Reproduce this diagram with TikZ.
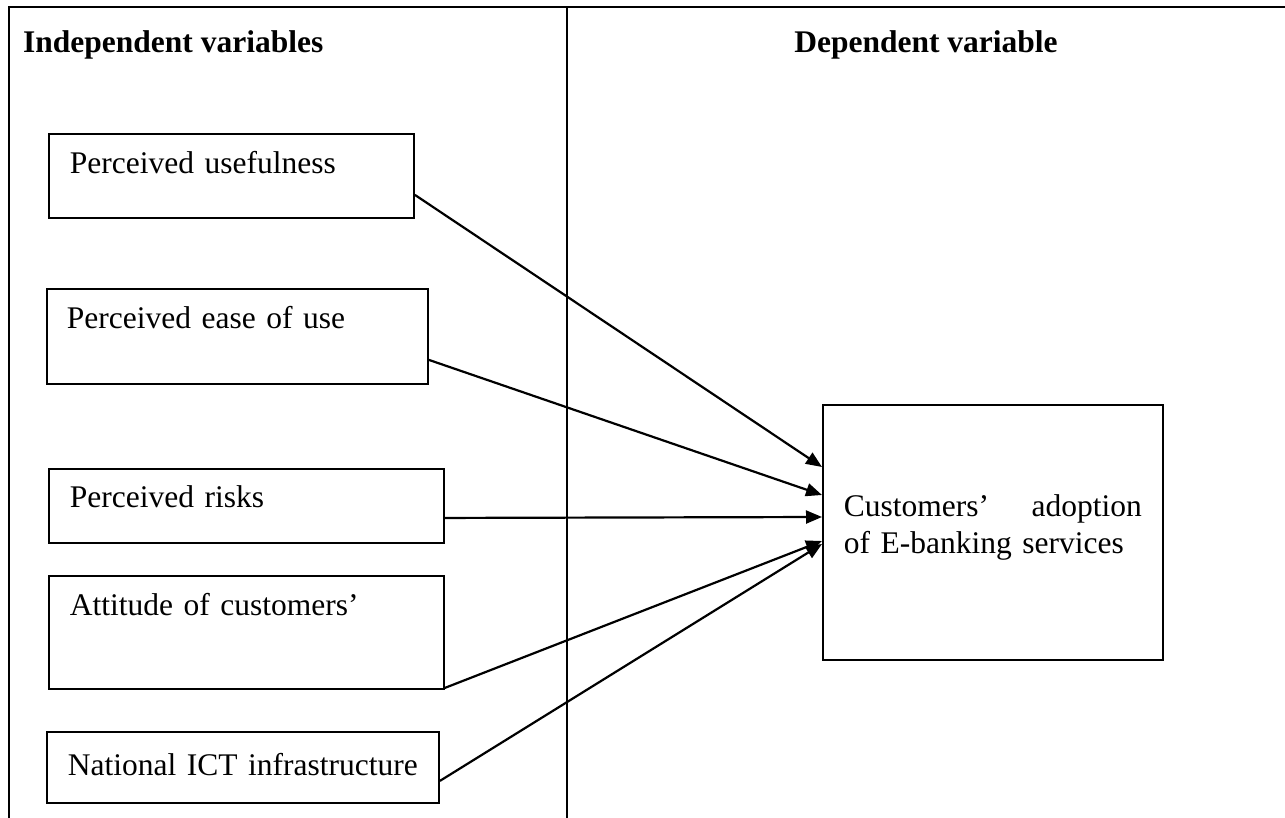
\documentclass[tikz,border=0pt]{standalone}
\usepackage{fontspec}
\setmainfont{Liberation Serif}
\usetikzlibrary{arrows.meta,positioning,calc}

\begin{document}
\begin{tikzpicture}[
    x=1pt, y=-1pt,
    frame/.style={line width=2.4pt},
    head/.style={font=\fontsize{31.5}{37}\selectfont\bfseries, inner sep=0pt},
    varbox/.style={draw, line width=1.9pt, anchor=north west,
                   inner xsep=21pt, inner ysep=0pt, align=left,
                   font=\fontsize{31.5}{37}\selectfont},
    result/.style={draw, line width=1.9pt, anchor=north west,
                   minimum width=340pt, minimum height=255pt,
                   inner xsep=21pt, text width=298pt, align=left,
                   font=\fontsize{31.5}{37}\selectfont},
    link/.style={line width=2.2pt, -{Triangle[length=16pt,width=13pt]}}]

    \useasboundingbox (0,0) rectangle (1285,818);

    % table lines
    \coordinate (tl) at (9,7);
    \coordinate (tr) at (1285,7);
    \coordinate (bl) at (9,818);
    \coordinate (mt) at (567,7);
    \coordinate (mb) at (567,818);
    \draw[frame] (bl) -- (tl) -- (tr);
    \draw[frame] (mt) -- (mb);

    \node[head, anchor=base west] (indep) at (23,53) {Independent variables};
    \node[head, anchor=base] (dep) at (926,53) {Dependent variable};

    % independent variables
    \node[varbox, text width=323pt, text height=40pt, text depth=44pt]
      (useful) at (48,133) {Perceived usefulness};
    \node[varbox, inner xsep=20pt, text width=341pt, text height=40pt, text depth=55pt]
      (ease) at (46,288) {Perceived ease of use};
    \node[varbox, text width=353pt, text height=39pt, text depth=35pt]
      (risk) at (48,468) {Perceived risks};
    \node[varbox, text width=353pt, text height=40pt, text depth=73pt]
      (attit) at (48,575) {Attitude of customers’};
    \node[varbox, text width=350pt, text height=44pt, text depth=27pt]
      (ict) at (46,731) {National ICT infrastructure};

    % dependent variable
    \node[result] (adopt) at (822,404)
      {Customers’\hfill adoption\\of E-banking services\rule[-16pt]{0pt}{0pt}};

    \draw[link] ([yshift=24pt]useful.south east) -- ([yshift=-63pt]adopt.north west);
    \draw[link] ([yshift=25pt]ease.south east) -- ([yshift=-91pt]adopt.north west);
    \draw[link] ([yshift=-12pt]risk.east) -- ([yshift=-113pt]adopt.north west);
    \draw[link] ([yshift=2pt]attit.south east) -- ([yshift=-137pt]adopt.north west);
    \draw[link] ([yshift=23pt]ict.south east) -- ([yshift=-140pt]adopt.north west);
\end{tikzpicture}
\end{document}
